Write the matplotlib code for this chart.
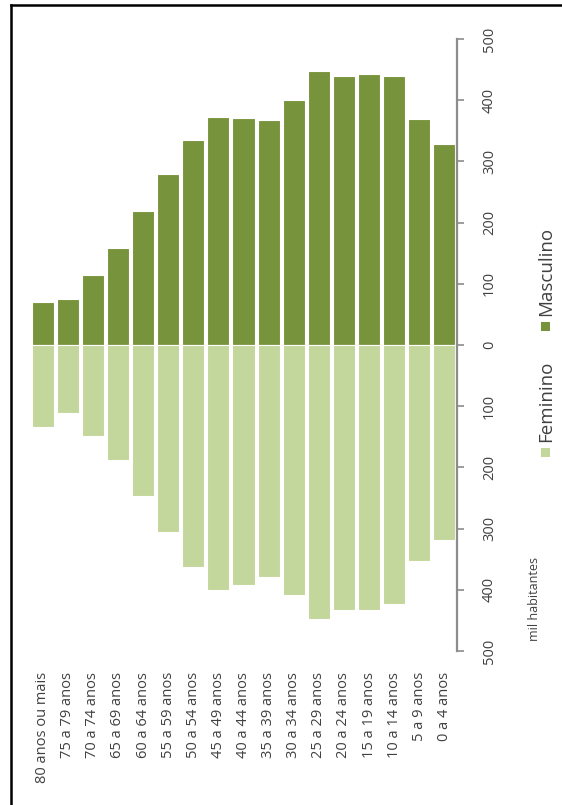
import matplotlib.pyplot as plt
import numpy as np
from matplotlib.patches import Rectangle
from matplotlib.lines import Line2D
from matplotlib import rcParams

rcParams['font.family'] = ['Open Sans', 'DejaVu Sans']

# age groups, oldest first (left to right in the rotated picture)
age_groups = ["80 anos ou mais", "75 a 79 anos", "70 a 74 anos", "65 a 69 anos",
              "60 a 64 anos", "55 a 59 anos", "50 a 54 anos", "45 a 49 anos",
              "40 a 44 anos", "35 a 39 anos", "30 a 34 anos", "25 a 29 anos",
              "20 a 24 anos", "15 a 19 anos", "10 a 14 anos", "5 a 9 anos",
              "0 a 4 anos"]
# values in thousands of inhabitants
masculino = [70, 75, 114, 158, 219, 279, 335, 372, 371, 368, 400, 448, 440, 443, 440, 369, 328]
feminino = [134, 111, 149, 188, 247, 306, 363, 400, 392, 379, 408, 448, 433, 433, 423, 353, 319]
y_ticks = [-500, -400, -300, -200, -100, 0, 100, 200, 300, 400, 500]

dark_green = '#77933C'
light_green = '#C3D69B'
text_color = '#404040'

W, H = 562, 805
fig = plt.figure(figsize=(W / 100, H / 100), dpi=100)
ax = fig.add_axes([30 / W, 1 - 651 / H, (457 - 30) / W, (651 - 39) / H])

x = np.arange(len(age_groups))
ax.bar(x, masculino, 0.88, color=dark_green, edgecolor='white', linewidth=0.8)
ax.bar(x, [-v for v in feminino], 0.88, color=light_green, edgecolor='white', linewidth=0.8)

ax.set_xlim(-0.5, len(age_groups) - 0.5)
ax.set_ylim(-500, 500)

# axis on the right, labels rotated as in the original
ax.yaxis.tick_right()
ax.set_yticks(y_ticks)
ax.set_yticklabels([str(abs(v)) for v in y_ticks], rotation=90, va='center',
                   ha='left', fontsize=10.5, color=text_color)
ax.tick_params(axis='y', length=5, width=1.2, color='#8C8C8C', pad=13)

ax.set_xticks(x)
ax.set_xticklabels(age_groups, rotation=90, fontsize=10.5, color=text_color)
ax.tick_params(axis='x', length=0, pad=15)

for s in ['left', 'top', 'bottom']:
    ax.spines[s].set_visible(False)
ax.spines['right'].set_color('#8C8C8C')
ax.spines['right'].set_linewidth(1.6)

# unit label
fig.text(535 / W, 1 - 599 / H, 'mil habitantes', rotation=90, ha='center', va='center',
         fontsize=9, color=text_color)

# legend drawn by hand so it can be rotated
legend = [("Feminino", light_green, 453, 442), ("Masculino", dark_green, 327, 316)]
for label, color, sq_y, txt_y in legend:
    fig.patches.append(Rectangle(((545 - 4.5) / W, 1 - (sq_y + 4.5) / H), 9 / W, 9 / H,
                                 transform=fig.transFigure, facecolor=color,
                                 edgecolor='none'))
    fig.text(546 / W, 1 - txt_y / H, label, rotation=90, ha='center', va='bottom',
             fontsize=13.5, color=text_color)

# frame lines on the left and top
fig.add_artist(Line2D([11 / W, 11 / W], [0, 1 - 5 / H], transform=fig.transFigure,
                      color='black', linewidth=1.8))
fig.add_artist(Line2D([11 / W, 1], [1 - 5 / H, 1 - 5 / H], transform=fig.transFigure,
                      color='black', linewidth=1.8))

fig.savefig('out.png', dpi=100)
